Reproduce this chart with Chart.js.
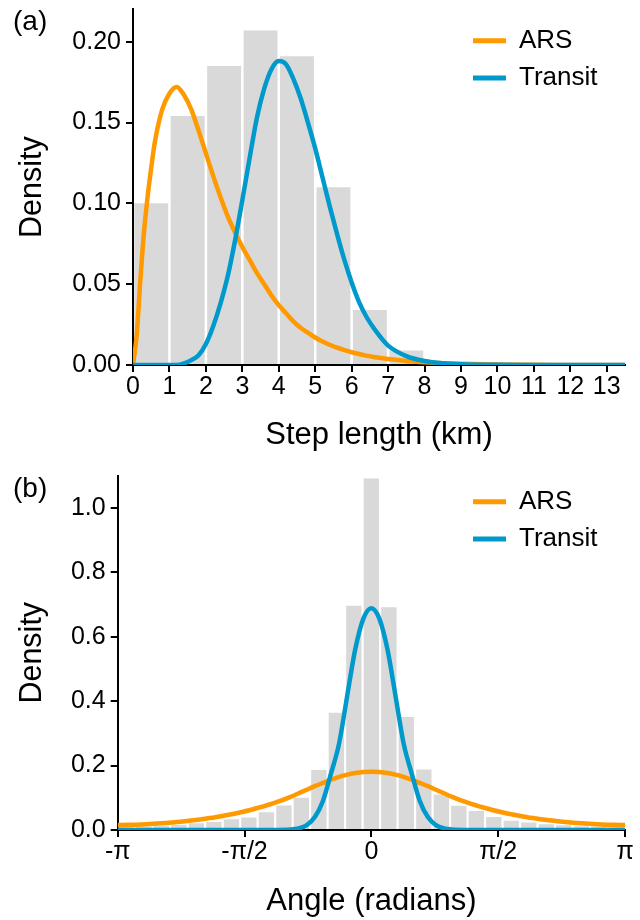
<!DOCTYPE html>
<html>
<head>
<meta charset="utf-8">
<title>Step length and turning angle densities</title>
<script src="https://cdn.jsdelivr.net/npm/chart.js@4.4.1/dist/chart.umd.min.js"></script>
<style>
  html, body { margin: 0; padding: 0; background: #fff; }
  #figure { position: relative; width: 640px; height: 920px; overflow: hidden; }
  canvas { position: absolute; left: 0; }
  #stepCanvas { top: 0; }
  #angleCanvas { top: 454px; }
  .tag { position: absolute; left: 13px; font: 28px/28px "Liberation Sans", Arial, sans-serif; color: #000; }
</style>
</head>
<body>
<div id="figure">
  <canvas id="stepCanvas" width="640" height="454"></canvas>
  <canvas id="angleCanvas" width="640" height="466"></canvas>
  <div class="tag" style="top: 7px;">(a)</div>
  <div class="tag" style="top: 474px;">(b)</div>
</div>
<script>
// (a) step length histogram, 1 km bins
const stepBinMid = [0.5, 1.5, 2.5, 3.5, 4.5, 5.5, 6.5, 7.5, 8.5];
const stepBinDensity = [0.100, 0.154, 0.185, 0.207, 0.191, 0.110, 0.034, 0.009, 0.0015];

// (a) fitted state densities
const stepX = [0, 0.1, 0.2, 0.3, 0.4, 0.5, 0.6, 0.8, 1.0, 1.2,
  1.4, 1.6, 1.8, 2.0, 2.2, 2.4, 2.6, 2.8, 3.0, 3.2,
  3.4, 3.6, 3.8, 4.0, 4.2, 4.4, 4.6, 4.8, 5.0, 5.2,
  5.4, 5.6, 5.8, 6.0, 6.2, 6.4, 6.6, 6.8, 7.0,
  7.5, 8.0, 8.5, 9.0, 10, 11, 12, 13, 13.5];
const stepArs = [0, 0.018, 0.052, 0.082, 0.104, 0.122, 0.138, 0.158, 0.168, 0.172,
  0.167, 0.158, 0.145, 0.131, 0.117, 0.104, 0.092, 0.082, 0.073, 0.065,
  0.057, 0.050, 0.043, 0.037, 0.032, 0.027, 0.023, 0.020, 0.017, 0.0145,
  0.0125, 0.0107, 0.0092, 0.0079, 0.0068, 0.0058, 0.005, 0.0043, 0.0037,
  0.0025, 0.0017, 0.0011, 0.0007, 0.0003, 0.0001, 0.00004, 0, 0];
const stepTransit = [0, 0, 0, 0, 0, 0, 0, 0, 0, 0,
  0.001, 0.003, 0.006, 0.013, 0.024, 0.038, 0.055, 0.077, 0.102, 0.128,
  0.153, 0.171, 0.183, 0.188, 0.186, 0.177, 0.165, 0.150, 0.134, 0.116,
  0.098, 0.081, 0.065, 0.051, 0.039, 0.030, 0.023, 0.017, 0.012,
  0.0055, 0.0025, 0.0011, 0.0005, 0.0001, 0, 0, 0, 0];

// (b) turning angle histogram, 29 bins over [-pi, pi]
const angleBinMid = [-3.033, -2.817, -2.600, -2.383, -2.167, -1.950, -1.733, -1.517, -1.300, -1.083,
  -0.867, -0.650, -0.433, -0.217, 0, 0.217, 0.433, 0.650, 0.867, 1.083,
  1.300, 1.517, 1.733, 1.950, 2.167, 2.383, 2.600, 2.817, 3.033];
const angleBinDensity = [0.010, 0.011, 0.013, 0.016, 0.021, 0.025, 0.033, 0.039, 0.055, 0.076,
  0.100, 0.186, 0.364, 0.696, 1.091, 0.691, 0.351, 0.188, 0.110, 0.075,
  0.059, 0.040, 0.029, 0.023, 0.018, 0.0145, 0.012, 0.011, 0.010];

// (b) fitted state densities
const angleX = [-3.1416, -3.0, -2.8, -2.6, -2.4, -2.2, -2.0, -1.8, -1.6, -1.4,
  -1.2, -1.0, -0.9, -0.8, -0.7, -0.6, -0.5, -0.4, -0.3, -0.2, -0.1,
  0,
  0.1, 0.2, 0.3, 0.4, 0.5, 0.6, 0.7, 0.8, 0.9, 1.0, 1.2,
  1.4, 1.6, 1.8, 2.0, 2.2, 2.4, 2.6, 2.8, 3.0, 3.1416];
const angleArs = [0.0155, 0.016, 0.018, 0.021, 0.025, 0.030, 0.037, 0.046, 0.056, 0.069,
  0.084, 0.103, 0.114, 0.125, 0.136, 0.146, 0.156, 0.165, 0.172, 0.177, 0.180,
  0.181,
  0.180, 0.177, 0.172, 0.165, 0.156, 0.146, 0.136, 0.125, 0.114, 0.103, 0.084,
  0.069, 0.056, 0.046, 0.037, 0.030, 0.025, 0.021, 0.018, 0.016, 0.0155];
const angleTransit = [0, 0, 0, 0, 0, 0, 0, 0, 0, 0,
  0.0002, 0.0015, 0.005, 0.015, 0.040, 0.090, 0.175, 0.268, 0.415, 0.560, 0.655,
  0.688,
  0.655, 0.560, 0.415, 0.268, 0.175, 0.090, 0.040, 0.015, 0.005, 0.0015, 0.0002,
  0, 0, 0, 0, 0, 0, 0, 0, 0, 0];

const angleTickValues = [-Math.PI, -Math.PI / 2, 0, Math.PI / 2, Math.PI];
const angleTickLabels = ['-π', '-π/2', '0', 'π/2', 'π'];

const ORANGE = '#FF9900';
const BLUE = '#0099CC';
const BAR_GREY = '#D9D9D9';

Chart.defaults.font.family = '"Liberation Sans", Arial, sans-serif';
Chart.defaults.color = '#000';

const pts = (xs, ys) => xs.map((x, i) => ({x: x, y: ys[i]}));

// legend sits inside the chart area; move it to the top right corner
const legendPlacer = {
    id: 'legendPlacer',
    afterLayout(chart, args, opts) {
        const lg = chart.legend;
        if (!lg) return;
        const w = lg.width;
        const h = lg.height;
        lg.left = opts.left;
        lg.top = opts.top;
        lg.right = lg.left + w;
        lg.bottom = lg.top + h;
    }
};

const axisBorder = { display: true, color: '#000', width: 2 };
const tickMarks = {
    display: true,
    drawOnChartArea: false,
    drawTicks: true,
    tickLength: 7,
    lineWidth: 2,
    tickWidth: 2,
    tickColor: '#000',
    offset: false
};

function densityPanel(canvasId, o) {
    return new Chart(document.getElementById(canvasId), {
        type: 'bar',
        data: {
            datasets: [{
                type: 'bar',
                data: pts(o.binMid, o.binDensity),
                backgroundColor: BAR_GREY,
                borderWidth: 0,
                barPercentage: o.barPercentage,
                categoryPercentage: 1,
                order: 2
            }, {
                type: 'line',
                label: 'ARS',
                data: pts(o.curveX, o.ars),
                borderColor: ORANGE,
                backgroundColor: ORANGE,
                borderWidth: 4.5,
                pointRadius: 0,
                cubicInterpolationMode: 'monotone',
                fill: false,
                order: 1
            }, {
                type: 'line',
                label: 'Transit',
                data: pts(o.curveX, o.transit),
                borderColor: BLUE,
                backgroundColor: BLUE,
                borderWidth: 4.5,
                pointRadius: 0,
                cubicInterpolationMode: 'monotone',
                fill: false,
                order: 0
            }]
        },
        options: {
            responsive: false,
            devicePixelRatio: 1,
            animation: false,
            events: [],
            layout: { padding: o.padding },
            scales: {
                x: {
                    type: 'linear',
                    min: o.xMin,
                    max: o.xMax,
                    offset: false,
                    z: 1,
                    border: axisBorder,
                    grid: tickMarks,
                    ticks: Object.assign({
                        includeBounds: false,
                        autoSkip: false,
                        maxRotation: 0,
                        padding: 0,
                        font: { size: 25 },
                        color: '#000'
                    }, o.xTicks),
                    afterBuildTicks: o.xAfterBuildTicks,
                    title: {
                        display: true,
                        text: o.xTitle,
                        font: { size: 31 },
                        color: '#000',
                        padding: 0
                    },
                    afterFit: (s) => {
                        s.height = o.xAxisHeight;
                        s.paddingLeft = 0;
                        s.paddingRight = 0;
                    }
                },
                y: {
                    type: 'linear',
                    min: 0,
                    max: o.yMax,
                    z: 1,
                    border: axisBorder,
                    grid: tickMarks,
                    ticks: {
                        stepSize: o.yStep,
                        includeBounds: false,
                        padding: 5,
                        font: { size: 25 },
                        color: '#000',
                        callback: (v) => v.toFixed(o.yDigits)
                    },
                    title: {
                        display: true,
                        text: 'Density',
                        font: { size: 30.5 },
                        color: '#000',
                        padding: 0
                    },
                    afterFit: (s) => {
                        s.width = o.yAxisWidth;
                        s.paddingTop = 0;
                        s.paddingBottom = 0;
                    }
                }
            },
            plugins: {
                tooltip: { enabled: false },
                legend: {
                    display: true,
                    position: 'chartArea',
                    align: 'start',
                    labels: {
                        font: { size: 26 },
                        color: '#000',
                        boxWidth: 33,
                        boxHeight: 5,
                        padding: 11.3,
                        filter: (item) => item.datasetIndex > 0,
                        sort: (a, b) => a.datasetIndex - b.datasetIndex,
                        generateLabels: (chart) => Chart.defaults.plugins.legend.labels.generateLabels(chart)
                            .map((item) => Object.assign(item, { lineWidth: 0 }))
                    }
                },
                legendPlacer: o.legendAt
            }
        },
        plugins: [legendPlacer]
    });
}

densityPanel('stepCanvas', {
    binMid: stepBinMid,
    binDensity: stepBinDensity,
    barPercentage: 0.93,
    curveX: stepX,
    ars: stepArs,
    transit: stepTransit,
    xMin: 0,
    xMax: 13.5,
    xTicks: { stepSize: 1 },
    xTitle: 'Step length (km)',
    yMax: 0.22,
    yStep: 0.05,
    yDigits: 2,
    xAxisHeight: 89,
    yAxisWidth: 118.5,
    padding: { left: 14.5, right: 15, top: 9.4, bottom: 0 },
    legendAt: { left: 461.7, top: 16.4 }
});

densityPanel('angleCanvas', {
    binMid: angleBinMid,
    binDensity: angleBinDensity,
    barPercentage: 0.88,
    curveX: angleX,
    ars: angleArs,
    transit: angleTransit,
    xMin: -Math.PI,
    xMax: Math.PI,
    xTicks: { callback: (v, i) => angleTickLabels[i] },
    xAfterBuildTicks: (s) => { s.ticks = angleTickValues.map((v) => ({ value: v })); },
    xTitle: 'Angle (radians)',
    yMax: 1.1,
    yStep: 0.2,
    yDigits: 1,
    xAxisHeight: 90,
    yAxisWidth: 103.2,
    padding: { left: 14.5, right: 15, top: 21.5, bottom: 0 },
    legendAt: { left: 461.7, top: 23.5 }
});
</script>
</body>
</html>
